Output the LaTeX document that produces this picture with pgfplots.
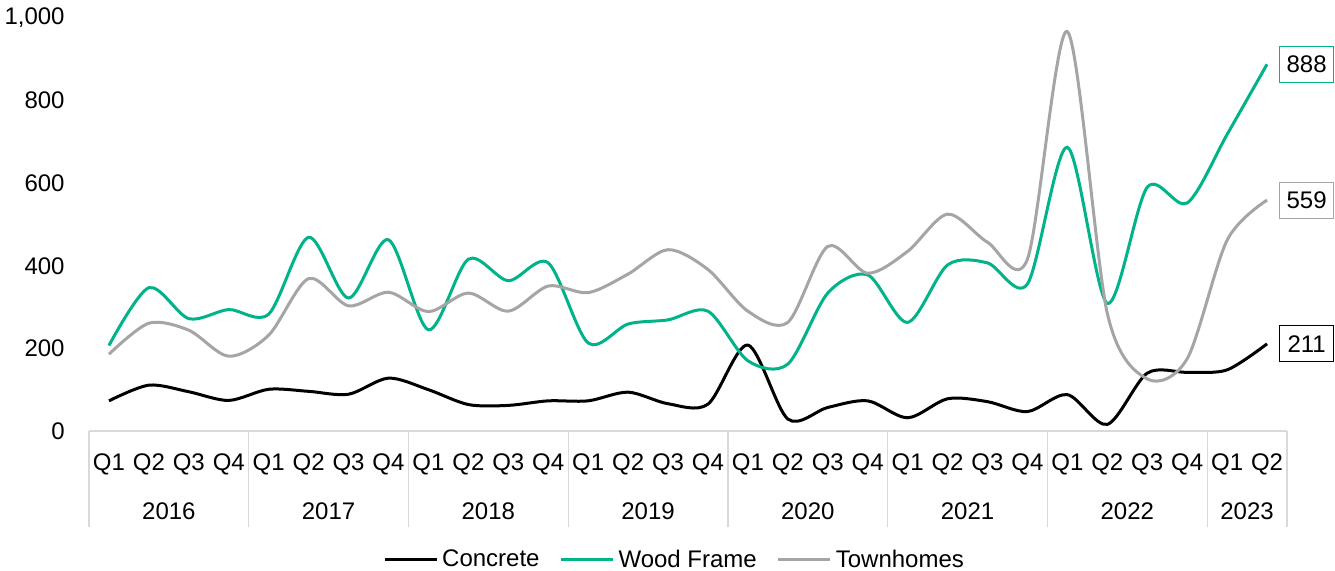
\documentclass[border=0pt]{standalone}
\usepackage{pgfplots}
\pgfplotsset{compat=1.18}
\usepackage{fontspec}
\setmainfont{Liberation Sans}
\definecolor{wood}{HTML}{00B388}
\definecolor{town}{HTML}{A5A5A5}
\definecolor{sepc}{HTML}{D9D9D9}
\begin{document}
\begin{tikzpicture}[font=\fontsize{12}{14}\selectfont]
\useasboundingbox (0,0) rectangle (667.5pt,285.5pt);
\begin{axis}[
  at={(44.5pt,70pt)}, anchor=south west,
  scale only axis, width=599pt, height=206.5pt,
  xmin=-0.5, xmax=29.5, ymin=0, ymax=1000,
  axis x line*=bottom, axis y line*=left,
  x axis line style={draw=sepc, line width=0.6pt},
  y axis line style={draw=none},
  major tick length=0pt,
  xtick={0,...,29},
  xticklabels={Q1,Q2,Q3,Q4,Q1,Q2,Q3,Q4,Q1,Q2,Q3,Q4,Q1,Q2,Q3,Q4,Q1,Q2,Q3,Q4,Q1,Q2,Q3,Q4,Q1,Q2,Q3,Q4,Q1,Q2},
  ytick={0,200,400,600,800,1000},
  /pgf/number format/1000 sep={,},
  /pgf/number format/assume math mode=true,
  yticklabel style={anchor=east, inner sep=0pt, xshift=-12pt, font=\fontsize{12}{14}\selectfont},
  xticklabel style={anchor=base, inner sep=0pt, yshift=-20pt, font=\fontsize{12}{14}\selectfont},
  extra x ticks={-0.5,3.5,7.5,11.5,15.5,19.5,23.5,27.5,29.5},
  extra x tick labels={},
  extra x tick style={major tick length=48pt, tick align=outside, tick style={draw=sepc, line width=0.6pt}},
  legend columns=3,
  legend style={at={(0.4896,-0.3123)}, anchor=center, draw=none, fill=none,
    font=\fontsize{12}{14}\selectfont, inner xsep=0pt,
    nodes={inner xsep=2pt},
    /tikz/every even column/.append style={column sep=8pt}},
  legend image code/.code={\draw[#1] (0pt,0pt) -- (26pt,0pt);},
  every axis plot/.append style={line width=1.5pt, smooth, tension=0.5},
  clip=false,
]
\addplot[black] coordinates {
(0,73)(1,111)(2,95)(3,74)(4,101)(5,96)(6,89)(7,128)(8,100)(9,64)(10,62)(11,73)(12,73)(13,94)(14,66)(15,65)(16,208)(17,29)(18,57)(19,73)(20,32)(21,78)(22,71)(23,47)(24,88)(25,16)(26,140)(27,142)(28,148)(29,211)}
node[pos=1, anchor=west, xshift=6pt, draw=black, line width=0.6pt, fill=white, minimum width=27pt, minimum height=18pt, inner sep=0pt, text=black] {211};
\addlegendentry{Concrete}
\addplot[wood] coordinates {
(0,207)(1,347)(2,272)(3,294)(4,283)(5,469)(6,322)(7,463)(8,245)(9,416)(10,364)(11,407)(12,213)(13,259)(14,269)(15,290)(16,170)(17,162)(18,334)(19,378)(20,263)(21,402)(22,407)(23,356)(24,687)(25,309)(26,590)(27,552)(28,718)(29,888)}
node[pos=1, anchor=west, xshift=6pt, draw=wood, line width=0.6pt, fill=white, minimum width=27pt, minimum height=18pt, inner sep=0pt, text=black] {888};
\addlegendentry{Wood Frame}
\addplot[town] coordinates {
(0,186)(1,261)(2,244)(3,181)(4,232)(5,369)(6,303)(7,336)(8,289)(9,334)(10,290)(11,351)(12,335)(13,380)(14,439)(15,391)(16,290)(17,263)(18,447)(19,382)(20,435)(21,525)(22,457)(23,416)(24,967)(25,285)(26,126)(27,175)(28,462)(29,559)}
node[pos=1, anchor=west, xshift=6pt, draw=town, line width=0.6pt, fill=white, minimum width=27pt, minimum height=18pt, inner sep=0pt, text=black] {559};
\addlegendentry{Townhomes}
\node[anchor=base, yshift=-44.5pt] at (axis cs:1.5,0) {2016};
\node[anchor=base, yshift=-44.5pt] at (axis cs:5.5,0) {2017};
\node[anchor=base, yshift=-44.5pt] at (axis cs:9.5,0) {2018};
\node[anchor=base, yshift=-44.5pt] at (axis cs:13.5,0) {2019};
\node[anchor=base, yshift=-44.5pt] at (axis cs:17.5,0) {2020};
\node[anchor=base, yshift=-44.5pt] at (axis cs:21.5,0) {2021};
\node[anchor=base, yshift=-44.5pt] at (axis cs:25.5,0) {2022};
\node[anchor=base, yshift=-44.5pt] at (axis cs:28.5,0) {2023};
\end{axis}
\end{tikzpicture}
\end{document}
